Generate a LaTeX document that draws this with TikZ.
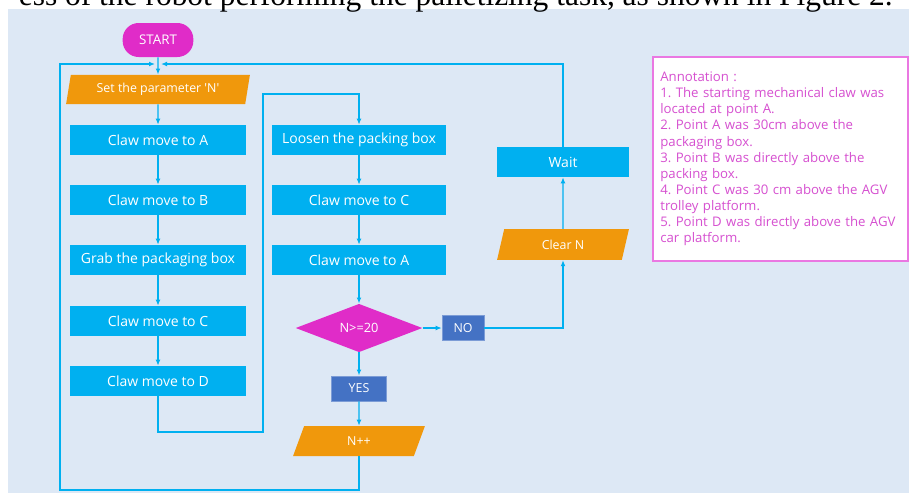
\documentclass[tikz,border=0pt]{standalone}
\usepackage{fontspec}
\setmainfont{Liberation Serif}
\newfontfamily\flowfont{Open Sans}
\usetikzlibrary{shapes.geometric,arrows.meta}
\definecolor{panelbg}{RGB}{221,232,245}
\definecolor{flowcyan}{RGB}{0,176,240}
\definecolor{flowmagenta}{RGB}{224,44,200}
\definecolor{floworange}{RGB}{240,152,12}
\definecolor{flowblue}{RGB}{68,114,196}
\definecolor{annotext}{RGB}{214,80,208}
\definecolor{annoline}{RGB}{234,120,226}

\begin{document}
\begin{tikzpicture}[x=0.75pt,y=0.75pt,yscale=-1,xscale=1,
	procbox/.style={fill=flowcyan,text=white,font=\flowfont\fontsize{10.5}{12}\selectfont,minimum width=132pt,minimum height=22.5pt,inner sep=0pt},
	iobox/.style={shape=trapezium,trapezium left angle=75,trapezium right angle=105,trapezium stretches=true,fill=floworange,text=white,font=\flowfont\fontsize{9.3}{11}\selectfont,minimum height=22pt,inner sep=0pt},
	termbox/.style={fill=flowmagenta,text=white,rounded corners=12pt,font=\flowfont\fontsize{10}{11}\selectfont,minimum width=53pt,minimum height=25.5pt,inner sep=0pt},
	decision/.style={shape=diamond,fill=flowmagenta,text=white,font=\flowfont\fontsize{9.6}{11}\selectfont,minimum width=95pt,minimum height=33pt,inner sep=0pt},
	answer/.style={fill=flowblue,text=white,draw=flowblue!70!white,font=\flowfont\fontsize{9.3}{11}\selectfont,minimum height=19pt,inner sep=0pt},
	flow/.style={draw=flowcyan,line width=0.9pt,-{Latex[length=4.5pt,width=3.6pt]}}]
		\useasboundingbox (0,0) rectangle (909,493);
		\clip (0,0) rectangle (909,493);
		\fill [panelbg] (8,9) rectangle (909,493);
		\node [anchor=base east,inner sep=0pt,font=\fontsize{23.6}{26}\selectfont] (caption) at (893,5) {ess of the robot performing the palletizing task, as shown in Figure 2.};
		% left column
		\node [termbox] (start) at (158,40) {START};
		\node [iobox,minimum width=138pt] (param) at (158,89.5) {Set the parameter 'N'};
		\node [procbox] (clawA) at (158,140) {Claw move to A};
		\node [procbox] (clawB) at (158,200) {Claw move to B};
		\node [procbox] (grab) at (158,260) {Grab the packaging box};
		\node [procbox] (clawC) at (158,321) {Claw move to C};
		\node [procbox] (clawD) at (158,381) {Claw move to D};
		% right column
		\node [procbox,minimum width=130pt] (loosen) at (359,140) {Loosen the packing box};
		\node [procbox,minimum width=130pt] (backC) at (359,200) {Claw move to C};
		\node [procbox,minimum width=130pt] (backA) at (359,260) {Claw move to A};
		\node [decision] (test) at (359,328) {N>=20};
		\node [answer,minimum width=31.5pt] (no) at (463,328) {NO};
		\node [answer,minimum width=41pt] (yes) at (359,388.5) {YES};
		\node [iobox,minimum width=99pt,minimum height=22.5pt] (nplus) at (359,441) {N++};
		\node [iobox,minimum width=99pt,minimum height=23pt] (clearn) at (563,244.5) {Clear N};
		\node [procbox,minimum width=99pt] (wait) at (563,162) {Wait};
		% annotation
		\node [draw=annoline,line width=1.5pt,fill=white,anchor=north west,text=annotext,text width=180pt,minimum height=153pt,inner xsep=5.5pt,align=left,font=\flowfont\fontsize{9.9}{12.1}\selectfont\frenchspacing] (notes) at (652,56) {Annotation :\\1. The starting mechanical claw was\\located at point A.\\2. Point A was 30cm above the\\packaging box.\\3. Point B was directly above the\\packing box.\\4. Point C was 30 cm above the AGV\\trolley platform.\\5. Point D was directly above the AGV\\car platform.};
		% junction
		\coordinate (jl) at (155,64);
		\coordinate (jr) at (161,64);
		\coordinate (dlow) at (263,432);
		\coordinate (dhigh) at (263,94);
		\coordinate (loopbot) at (60,490);
		\draw [flow] (start) -- (param);
		\draw [flow] (param) -- (clawA);
		\draw [flow] (clawA) -- (clawB);
		\draw [flow] (clawB) -- (grab);
		\draw [flow] (grab) -- (clawC);
		\draw [flow] (clawC) -- (clawD);
		\draw [flow] (clawD.south) |- (dlow) -- (dhigh) -| (loosen.north);
		\draw [flow] (loosen) -- (backC);
		\draw [flow] (backC) -- (backA);
		\draw [flow] (backA) -- (test);
		\draw [flow] (test) -- (no);
		\draw [flow] (test) -- (yes);
		\draw [flow] (yes) -- (nplus);
		\draw [flow] (nplus.south) |- (loopbot) |- (jl);
		\draw [flow] (no) -| (clearn.south);
		\draw [flow] (clearn) -- (wait);
		\draw [flow] (wait.north) |- (jr);
\end{tikzpicture}
\end{document}
